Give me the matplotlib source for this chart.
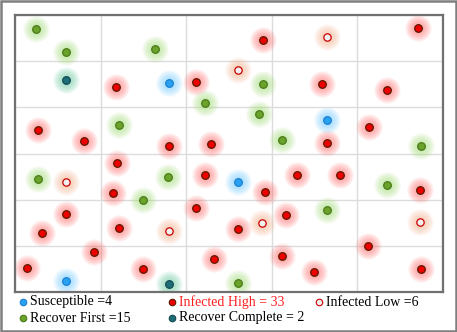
import matplotlib.pyplot as plt
from matplotlib.patches import Rectangle

# positions of the nodes, in grid units (5 columns x 6 rows)
susc_x = [1.80, 3.64, 2.60, 0.60]
susc_y = [4.52, 3.73, 2.38, 0.23]

recc_x = [0.60, 1.80]
recc_y = [4.60, 0.17]

low_x = [3.64, 2.60, 0.60, 1.80, 2.89, 4.73]
low_y = [5.52, 4.81, 2.39, 1.32, 1.49, 1.52]

recf_x = [0.24, 0.60, 1.64, 2.22, 1.21, 2.90, 2.85, 3.12, 4.74, 0.27, 1.79, 1.50, 4.34, 3.64, 2.60]
recf_y = [5.70, 5.20, 5.26, 4.10, 3.61, 4.51, 3.85, 3.30, 3.16, 2.45, 2.50, 1.99, 2.31, 1.77, 0.20]

high_x = [1.18, 2.11, 0.27, 0.81, 1.80, 2.29, 2.90, 4.71, 3.59, 4.34, 4.14,
          3.64, 1.19, 2.22, 1.14, 2.12, 0.60, 0.31, 1.21, 0.92, 2.33, 0.14,
          1.50, 3.29, 3.80, 2.92, 4.73, 3.17, 2.60, 4.12, 3.12, 3.49, 4.74]
high_y = [4.45, 4.54, 3.51, 3.27, 3.17, 3.21, 5.46, 5.71, 4.51, 4.38, 3.58,
          3.22, 2.79, 2.54, 2.14, 1.83, 1.70, 1.27, 1.38, 0.86, 0.72, 0.51,
          0.50, 2.53, 2.53, 2.17, 2.21, 1.66, 1.36, 0.99, 0.79, 0.44, 0.50]

legend_labels = ["Susceptible =4", "Infected High = 33", "Infected Low =6",
                 "Recover First =15", "Recover Complete = 2"]

# (halo colour, dot face, dot edge)
styles = {
    "susc": ("#6ccbff", "#2aa0f0", "#1a7fd0"),
    "high": ("#ff6a6a", "#ee0000", "#5a1a00"),
    "low": ("#f4b088", "#f0f0f0", "#cc0000"),
    "recf": ("#a0dc70", "#6aa22a", "#4a7a1a"),
    "recc": ("#60c89c", "#1e6e7a", "#134a50"),
}

fig = plt.figure(figsize=(4.57, 3.32), dpi=100)
ax = fig.add_axes([15 / 457, 40 / 332, 428 / 457, 277 / 332])


def draw_nodes(ax, xs, ys, key, dot=30, halo=True):
    glow, face, edge = styles[key]
    if halo:
        for s in [360, 300, 245, 195, 150, 110, 75, 45]:
            ax.scatter(xs, ys, s=s, color=glow, alpha=0.09, linewidths=0, zorder=2)
    ax.scatter(xs, ys, s=dot, color=face, edgecolors=edge, linewidths=0.9, zorder=3)


draw_nodes(ax, recf_x, recf_y, "recf")
draw_nodes(ax, high_x, high_y, "high")
draw_nodes(ax, low_x, low_y, "low", dot=28)
draw_nodes(ax, susc_x, susc_y, "susc")
draw_nodes(ax, recc_x, recc_y, "recc")

ax.set_xlim(0, 5)
ax.set_ylim(0, 6)
ax.set_xticks(range(6))
ax.set_yticks(range(7))
ax.grid(True, color="#dcdcdc", linewidth=1)
ax.set_axisbelow(True)
ax.tick_params(length=0, labelbottom=False, labelleft=False)
for sp in ax.spines.values():
    sp.set_color("#707070")
    sp.set_linewidth(1.6)

# legend drawn underneath the plot, in pixel space
lg = fig.add_axes([0, 0, 1, 1], zorder=-1)
lg.set_xlim(0, 457)
lg.set_ylim(332, 0)
lg.axis("off")
lg.add_patch(Rectangle((1, 1), 455, 330, fill=False, edgecolor="#7f7f7f", linewidth=1.8))

leg_keys = ["susc", "high", "low", "recf", "recc"]
leg_x = [23, 172, 319, 23, 172]
leg_y = [302, 302, 302, 318, 318]
leg_color = ["black", "#ff2020", "black", "black", "black"]
for k, x, y, lab, c in zip(leg_keys, leg_x, leg_y, legend_labels, leg_color):
    glow, face, edge = styles[k]
    lg.scatter([x], [y], s=22, color=face, edgecolors=edge, linewidths=0.8, zorder=3)
    lg.text(x + 7, y, lab, color=c, fontsize=10, family="Liberation Serif",
            va="center", ha="left")

fig.savefig("out.png", dpi=100)
